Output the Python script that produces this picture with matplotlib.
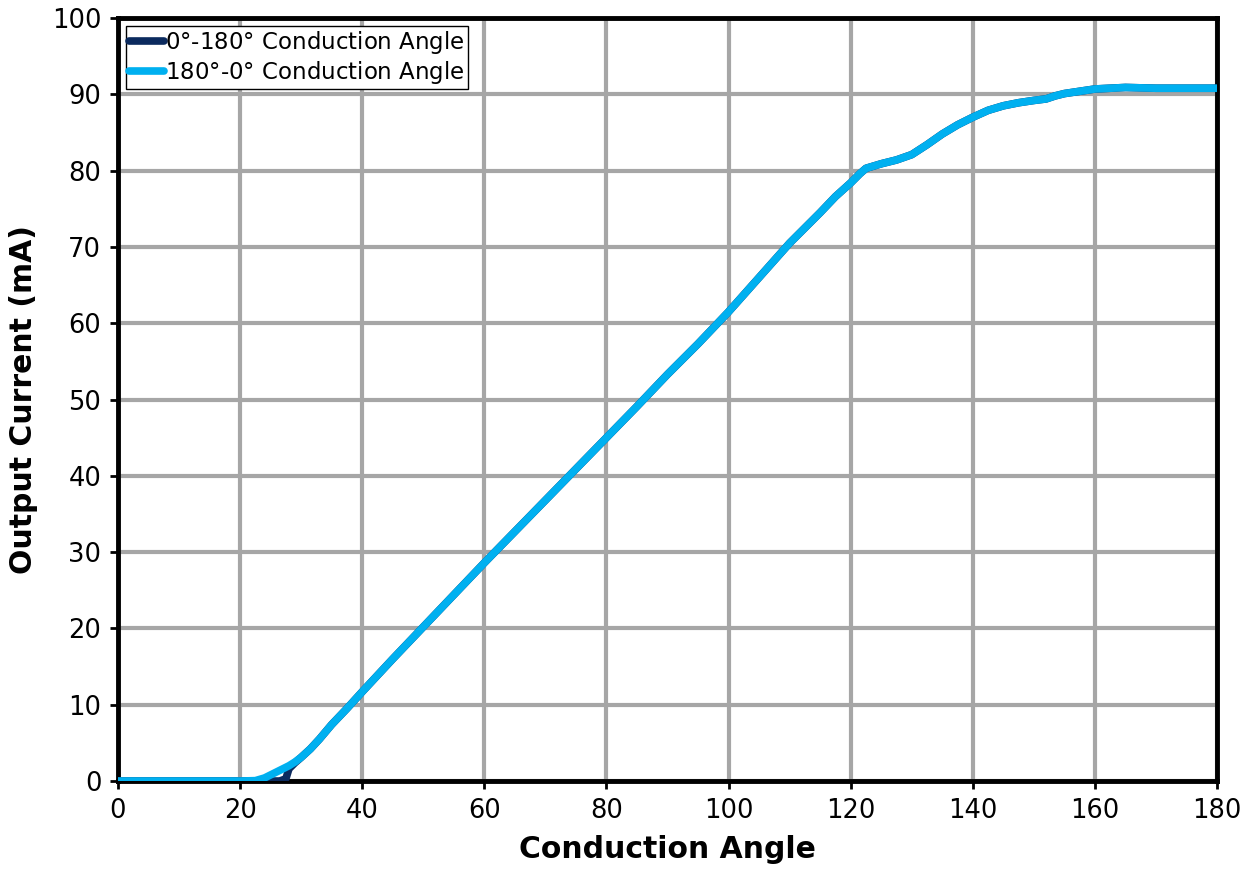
import numpy as np
import matplotlib.pyplot as plt

# Output current vs. conduction angle, swept both directions
angle_up = [0, 5, 10, 15, 20, 22.5, 25, 26.5, 27.5, 28, 29, 30, 31.5, 33, 35, 37.5, 40, 45, 50, 55, 60, 65,
            70, 75, 80, 85, 90, 95, 100, 105, 110, 115, 117.5, 120, 121.5, 122.5, 125, 127.5, 130, 132.5,
            135, 137.5, 140, 142.5, 145, 147.5, 150, 152, 153.5, 155, 157.5, 160, 165, 170, 175, 180]
current_up = [0, 0, 0, 0, 0, 0, 0, 0, 0.3, 1.6, 2.4, 3.1, 4.2, 5.5, 7.4, 9.5, 11.7, 16.0, 20.2, 24.4, 28.6,
              32.7, 36.8, 40.9, 45.0, 49.1, 53.3, 57.3, 61.5, 66.0, 70.5, 74.5, 76.6, 78.4, 79.6, 80.3,
              80.9, 81.4, 82.1, 83.4, 84.8, 86.0, 87.0, 87.9, 88.5, 88.9, 89.2, 89.4, 89.8, 90.1, 90.4,
              90.7, 90.9, 90.8, 90.8, 90.8]

angle_down = [0, 5, 10, 15, 20, 22.5, 24, 25, 26.5, 28, 29, 30, 31.5, 33, 35, 37.5, 40, 45, 50, 55, 60, 65,
              70, 75, 80, 85, 90, 95, 100, 105, 110, 115, 117.5, 120, 121.5, 122.5, 125, 127.5, 130, 132.5,
              135, 137.5, 140, 142.5, 145, 147.5, 150, 152, 153.5, 155, 157.5, 160, 165, 170, 175, 180]
current_down = [0, 0, 0, 0, 0, 0.05, 0.4, 0.8, 1.4, 2.0, 2.5, 3.1, 4.2, 5.5, 7.4, 9.5, 11.7, 16.0, 20.2,
                24.4, 28.6, 32.7, 36.8, 40.9, 45.0, 49.1, 53.3, 57.3, 61.5, 66.0, 70.5, 74.5, 76.6, 78.4,
                79.6, 80.3, 80.9, 81.4, 82.1, 83.4, 84.8, 86.0, 87.0, 87.9, 88.5, 88.9, 89.2, 89.4, 89.8,
                90.1, 90.4, 90.7, 90.9, 90.8, 90.8, 90.8]

fig = plt.figure(figsize=(12.47, 8.84), dpi=100)
ax = fig.add_axes([0.0946, 0.1165, 0.8814, 0.8631])

ax.plot(angle_up, current_up, color="#0B2A5E", lw=5.5, solid_capstyle="round",
        solid_joinstyle="round", label="0$\\degree$-180$\\degree$ Conduction Angle", zorder=3)
ax.plot(angle_down, current_down, color="#00B0F0", lw=5.5, solid_capstyle="round",
        solid_joinstyle="round", label="180$\\degree$-0$\\degree$ Conduction Angle", zorder=4)

ax.set_xlim(0, 180)
ax.set_ylim(0, 100)
ax.set_xticks(np.arange(0, 181, 20))
ax.set_yticks(np.arange(0, 101, 10))
ax.grid(True, color="#A6A6A6", lw=3)
ax.set_axisbelow(True)
for s in ax.spines.values():
    s.set_linewidth(3.5)
    s.set_color("black")
ax.tick_params(axis="both", labelsize=18.5, width=2, length=6, direction="out", pad=6)

ax.set_xlabel("Conduction Angle", fontsize=21.5, fontweight="bold", labelpad=8)
ax.set_ylabel("Output Current (mA)", fontsize=21.5, fontweight="bold", labelpad=10)

leg = ax.legend(loc="upper left", fontsize=16.5, handlelength=1.5, handletextpad=0.05,
                borderpad=0.15, labelspacing=0.1, fancybox=False, framealpha=1,
                borderaxespad=0.35)
leg.get_frame().set_edgecolor("black")
leg.get_frame().set_linewidth(1)

fig.savefig("out.png", dpi=100)
